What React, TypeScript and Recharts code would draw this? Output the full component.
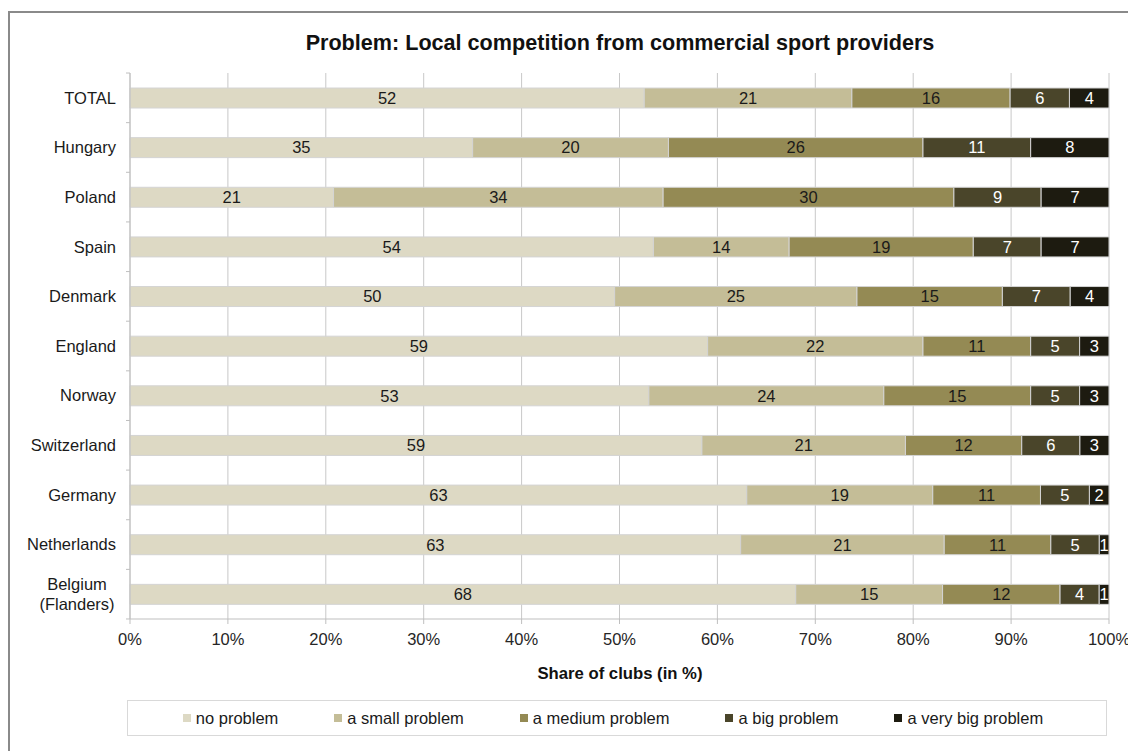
import { BarChart, Bar, XAxis, YAxis, CartesianGrid, LabelList } from "recharts";

const countries = [
  "TOTAL",
  "Hungary",
  "Poland",
  "Spain",
  "Denmark",
  "England",
  "Norway",
  "Switzerland",
  "Germany",
  "Netherlands",
  "Belgium\n(Flanders)",
];
const noProblem = [52, 35, 21, 54, 50, 59, 53, 59, 63, 63, 68];
const smallProblem = [21, 20, 34, 14, 25, 22, 24, 21, 19, 21, 15];
const mediumProblem = [16, 26, 30, 19, 15, 11, 15, 12, 11, 11, 12];
const bigProblem = [6, 11, 9, 7, 7, 5, 5, 6, 5, 5, 4];
const veryBigProblem = [4, 8, 7, 7, 4, 3, 3, 3, 2, 1, 1];
const xTicks = [0, 0.1, 0.2, 0.3, 0.4, 0.5, 0.6, 0.7, 0.8, 0.9, 1];

const series = [
  { key: "no", name: "no problem", color: "#ddd9c4", text: "#1a1a1a" },
  { key: "small", name: "a small problem", color: "#c4bd97", text: "#1a1a1a" },
  { key: "medium", name: "a medium problem", color: "#948a54", text: "#1a1a1a" },
  { key: "big", name: "a big problem", color: "#4a452a", text: "#ffffff" },
  { key: "veryBig", name: "a very big problem", color: "#1d1b10", text: "#ffffff" },
];

const data = countries.map((name, i) => ({
  name,
  no: noProblem[i],
  small: smallProblem[i],
  medium: mediumProblem[i],
  big: bigProblem[i],
  veryBig: veryBigProblem[i],
}));

const FONT = "'Liberation Sans', Arial, sans-serif";
const FS = 16.5;
const HALF_BAND = 24.8;

const CountryTick = (props: any) => {
  const { x, y, payload, index } = props;
  const lines = String(payload.value).split("\n");
  return (
    <g>
      <line x1={x + 10} x2={x + 14} y1={y - HALF_BAND} y2={y - HALF_BAND} stroke="#bfbfbf" />
      {index === countries.length - 1 && (
        <line x1={x + 10} x2={x + 14} y1={y + HALF_BAND} y2={y + HALF_BAND} stroke="#bfbfbf" />
      )}
      {lines.length === 1 ? (
        <text x={x} y={y} dy="0.35em" textAnchor="end" fontSize={FS} fill="#1a1a1a" fontFamily={FONT}>
          {lines[0]}
        </text>
      ) : (
        <text x={x - 39} y={y - 10} textAnchor="middle" fontSize={FS} fill="#1a1a1a" fontFamily={FONT}>
          {lines.map((l, k) => (
            <tspan key={k} x={x - 39} dy={k === 0 ? "0.35em" : 20}>
              {l}
            </tspan>
          ))}
        </text>
      )}
    </g>
  );
};

export default function App() {
  return (
    <div style={{ position: "relative", width: 1128, height: 743, overflow: "hidden", fontFamily: FONT }}>
      <div
        style={{
          position: "absolute",
          left: 0,
          top: 3,
          width: 2000,
          height: 2000,
          borderTop: "2px solid #8a8a8a",
          borderLeft: "2px solid #8a8a8a",
        }}
      />
      <div
        style={{
          position: "absolute",
          left: 0,
          width: 1224,
          top: 23,
          lineHeight: "24px",
          textAlign: "center",
          fontSize: 21.6,
          fontWeight: "bold",
          color: "#111",
        }}
      >
        Problem: Local competition from commercial sport providers
      </div>
      <BarChart
        width={1128}
        height={743}
        data={data}
        layout="vertical"
        stackOffset="expand"
        margin={{ top: 65, right: 27, bottom: 102, left: 0 }}
        barSize={20}
        style={{ position: "absolute", left: 0, top: 0 }}
      >
        <CartesianGrid horizontal={false} vertical stroke="#c8c8c8" />
        <XAxis
          type="number"
          domain={[0, 1]}
          ticks={xTicks}
          tickFormatter={(v: number) => `${Math.round(v * 100)}%`}
          height={30}
          tickSize={5}
          tickMargin={9}
          stroke="#bfbfbf"
          tick={{ fill: "#262626", fontSize: FS, fontFamily: FONT }}
        />
        <YAxis
          type="category"
          dataKey="name"
          width={122}
          tickSize={4}
          tickMargin={10}
          tickLine={false}
          stroke="#bfbfbf"
          interval={0}
          tick={<CountryTick />}
        />
        {series.map((s) => (
          <Bar
            key={s.key}
            dataKey={s.key}
            name={s.name}
            stackId="a"
            fill={s.color}
            stroke="#d4d4d4"
            strokeWidth={1}
            isAnimationActive={false}
          >
            <LabelList
              dataKey={s.key}
              position="center"
              fill={s.text}
              fontSize={FS}
              fontFamily={FONT}
            />
          </Bar>
        ))}
      </BarChart>
      <div
        style={{
          position: "absolute",
          left: 0,
          width: 1224,
          top: 654,
          lineHeight: "24px",
          textAlign: "center",
          fontSize: 16.7,
          fontWeight: "bold",
          color: "#111",
        }}
      >
        Share of clubs (in %)
      </div>
      <div
        style={{
          position: "absolute",
          left: 119,
          top: 692,
          width: 980,
          height: 36,
          border: "1px solid #d9d9d9",
          display: "flex",
          alignItems: "center",
          justifyContent: "center",
          gap: 56,
          paddingRight: 8,
          boxSizing: "border-box",
          fontSize: FS,
          color: "#1a1a1a",
        }}
      >
        {series.map((s) => (
          <div key={s.key} style={{ display: "flex", alignItems: "center" }}>
            <span
              style={{
                display: "inline-block",
                width: 8,
                height: 8,
                background: s.color,
                marginRight: 5,
              }}
            />
            <span>{s.name}</span>
          </div>
        ))}
      </div>
    </div>
  );
}
